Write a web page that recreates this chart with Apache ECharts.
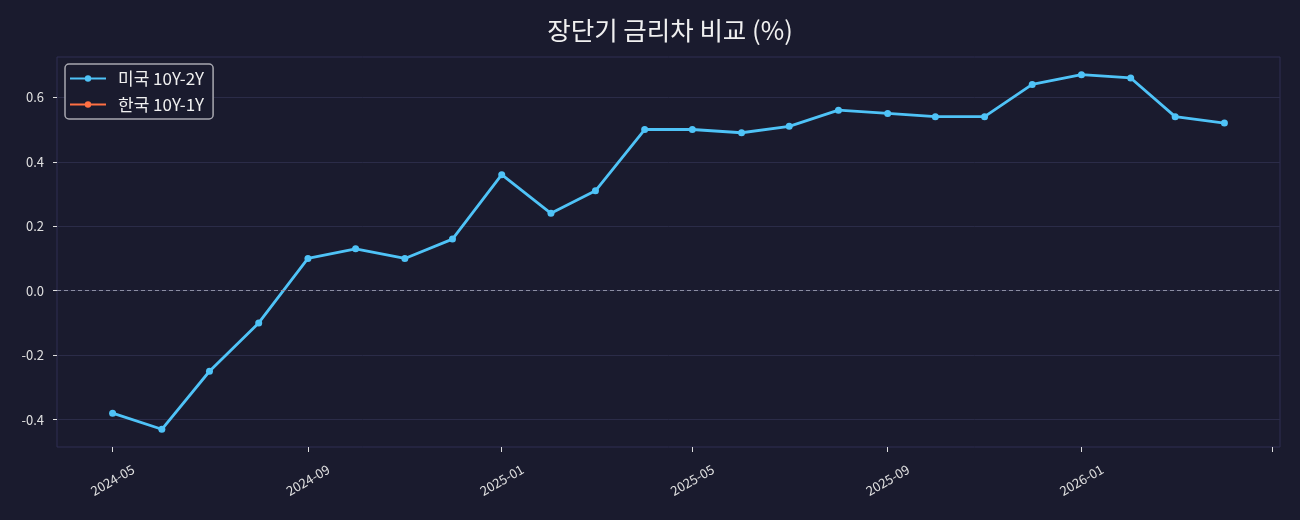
<!DOCTYPE html>
<html>
<head>
<meta charset="utf-8">
<script src="https://cdn.jsdelivr.net/npm/echarts@6/dist/echarts.min.js"></script>
<style>
  html, body { margin: 0; padding: 0; background: #1a1b2e; }
  #main { width: 1300px; height: 520px; }
</style>
</head>
<body>
<div id="main"></div>
<script>
// 월별 금리차 (%)
const months = ['2024-05', '2024-06', '2024-07', '2024-08', '2024-09', '2024-10', '2024-11', '2024-12',
  '2025-01', '2025-02', '2025-03', '2025-04', '2025-05', '2025-06', '2025-07', '2025-08',
  '2025-09', '2025-10', '2025-11', '2025-12', '2026-01', '2026-02', '2026-03', '2026-04']
const usSpread = [-0.38, -0.43, -0.25, -0.10, 0.10, 0.13, 0.10, 0.16,
  0.36, 0.24, 0.31, 0.50, 0.50, 0.49, 0.51, 0.56,
  0.55, 0.54, 0.54, 0.64, 0.67, 0.66, 0.54, 0.52]
const krSpread = []
const xTicks = ['2024-05', '2024-09', '2025-01', '2025-05', '2025-09', '2026-01', '2026-05']
const xLabels = ['2024-05', '2024-09', '2025-01', '2025-05', '2025-09', '2026-01']
const yTicks = [-0.4, -0.2, 0, 0.2, 0.4, 0.6]

const usColor = '#4fc3f7', krColor = '#ff7043'
const toTs = s => Date.UTC(+s.slice(0, 4), +s.slice(5, 7) - 1, s.length > 7 ? +s.slice(8, 10) : 1)
const fmtMonth = v => {
  let d = new Date(v)
  return d.getUTCFullYear() + '-' + String(d.getUTCMonth() + 1).padStart(2, '0')
}

const fontFam = '"Noto Sans CJK KR", "Noto Sans", sans-serif'
let chart = echarts.init(document.getElementById('main'), null, { renderer: 'canvas' })
chart.setOption({
  backgroundColor: '#1a1b2e',
  animation: false,
  title: {
    text: '장단기 금리차 비교 (%)',
    left: 665,
    textAlign: 'center',
    top: 13,
    textStyle: { color: '#f0f0f0', fontSize: 25.5, fontWeight: 'normal', fontFamily: fontFam }
  },
  legend: {
    left: 65,
    top: 64,
    orient: 'vertical',
    itemGap: 5,
    itemWidth: 36,
    itemHeight: 8,
    padding: [4, 9, 4, 4],
    borderColor: '#a8a8b0',
    borderWidth: 1.5,
    borderRadius: 4,
    backgroundColor: '#1a1b2e',
    textStyle: { color: '#f0f0f0', fontSize: 17, lineHeight: 21, padding: [0, 0, 0, 7], fontFamily: fontFam },
    data: ['미국 10Y-2Y', '한국 10Y-1Y']
  },
  grid: {
    left: 57, right: 20, top: 57, bottom: 73,
    show: true,
    borderColor: '#2e2f52',
    borderWidth: 1
  },
  xAxis: {
    type: 'value',
    min: toTs('2024-03-27'),
    max: toTs('2026-05-06'),
    axisLine: { show: false, onZero: false },
    axisTick: {
      show: true, length: 5,
      lineStyle: { color: '#e0e0e0', width: 1 },
      customValues: xTicks.map(toTs)
    },
    axisLabel: {
      rotate: 30,
      align: 'center',
      verticalAlign: 'middle',
      color: '#e0e0e0',
      fontSize: 13,
      fontFamily: fontFam,
      margin: 33,
      customValues: xLabels.map(toTs),
      formatter: fmtMonth
    },
    splitLine: { show: false }
  },
  yAxis: {
    type: 'value',
    min: -0.485,
    max: 0.725,
    axisLine: { show: false },
    axisTick: {
      show: true, length: 4,
      lineStyle: { color: '#e0e0e0', width: 1 },
      customValues: yTicks
    },
    axisLabel: {
      color: '#e0e0e0',
      fontSize: 13,
      fontFamily: fontFam,
      margin: 13,
      customValues: yTicks,
      formatter: v => v.toFixed(1)
    },
    splitLine: { show: true, lineStyle: { color: '#2b2c48', width: 1 } }
  },
  series: [
    {
      name: '미국 10Y-2Y',
      type: 'line',
      data: months.map((m, i) => [toTs(m), usSpread[i]]),
      symbol: 'circle',
      symbolSize: 7,
      lineStyle: { color: usColor, width: 2.8 },
      itemStyle: { color: usColor },
      markLine: {
        silent: true,
        symbol: 'none',
        label: { show: false },
        lineStyle: { color: '#8c8ea3', type: [4, 3], width: 1 },
        data: [{ yAxis: 0 }]
      },
      z: 3
    },
    {
      name: '한국 10Y-1Y',
      type: 'line',
      data: krSpread,
      symbol: 'circle',
      symbolSize: 7,
      lineStyle: { color: krColor, width: 2.8 },
      itemStyle: { color: krColor }
    }
  ]
})
</script>
</body>
</html>
